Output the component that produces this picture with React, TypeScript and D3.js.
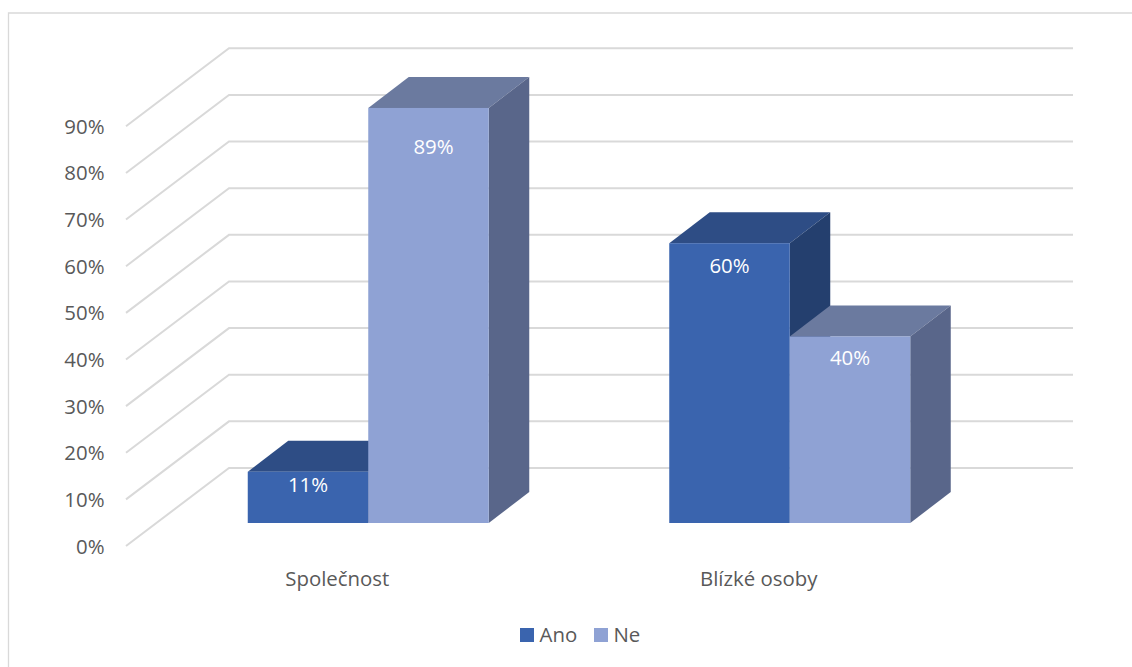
import React from "react";
import * as d3 from "d3";

const categories = ["Společnost", "Blízké osoby"];
const seriesNames = ["Ano", "Ne"];
const ano = [11, 60];
const ne = [89, 40];
const seriesValues = [ano, ne];
const tickValues = [0, 10, 20, 30, 40, 50, 60, 70, 80, 90];

const frontColors = ["#3a64ae", "#8fa2d4"];
const topColors = ["#2e4d85", "#6b7a9f"];
const sideColors = ["#243f6e", "#59668a"];

const FONT = "'Open Sans', 'Noto Sans', sans-serif";
const FONT_SIZE = 20.4;
const TEXT = "#595959";
const GRID = "#d9d9d9";

// Oblique projection of the 3D box: how far the back wall and a bar's depth shift on screen.
const wallDx = 103;
const wallDy = 78;
const barDx = 40.5;
const barDy = 31;

// Nudges for the value labels inside the bars, [series][category].
const labelDrop = [[13, 23], [39, 22]];
const labelShift = [[0, 0], [5, 0]];

export default function App() {
  const wallY = d3.scaleLinear().domain([0, 90]).range([546, 126.3]);
  const barY = d3.scaleLinear().domain([0, 90]).range([523, 103.3]);
  const band = d3.scaleBand<string>().domain(categories).range([157.5, 1000.5]).paddingInner(0).paddingOuter(0);
  const inner = d3.scaleBand<string>().domain(seriesNames).range([-120.5, 120.5]);
  const center = (c: string) => (band(c) as number) + band.bandwidth() / 2;
  const line = d3.line<[number, number]>();

  return (
    <svg width={1132} height={667} style={{ position: "absolute", left: 0, top: 0, background: "#fff" }}>
      <path d="M8.5 667V13H1132" fill="none" stroke={GRID} strokeWidth={1.3} />

      {tickValues.map((t) => {
        const y = wallY(t);
        return (
          <g key={t}>
            <path
              d={line([[126, y], [126 + wallDx, y - wallDy], [1073, y - wallDy]]) as string}
              fill="none"
              stroke={GRID}
              strokeWidth={2}
            />
            <text x={104.5} y={y + 7.5} textAnchor="end" fontFamily={FONT} fontSize={FONT_SIZE} fill={TEXT}>
              {t}%
            </text>
          </g>
        );
      })}

      {categories.map((c, ci) => (
        <g key={c}>
          {seriesNames.map((s, si) => {
            const v = seriesValues[si][ci];
            const x0 = center(c) + (inner(s) as number);
            const x1 = x0 + inner.bandwidth();
            const yTop = barY(v);
            const yBase = barY(0);
            return (
              <g key={s}>
                <path
                  d={line([[x0, yTop], [x0 + barDx, yTop - barDy], [x1 + barDx, yTop - barDy], [x1, yTop]]) + "Z"}
                  fill={topColors[si]}
                />
                <path
                  d={line([[x1, yTop], [x1 + barDx, yTop - barDy], [x1 + barDx, yBase - barDy], [x1, yBase]]) + "Z"}
                  fill={sideColors[si]}
                />
                <rect x={x0} y={yTop} width={x1 - x0} height={yBase - yTop} fill={frontColors[si]} />
              </g>
            );
          })}
          <text x={center(c) - 31} y={585.5} textAnchor="middle" fontFamily={FONT} fontSize={FONT_SIZE} fill={TEXT}>
            {c}
          </text>
        </g>
      ))}

      {categories.map((c, ci) =>
        seriesNames.map((s, si) => {
          const v = seriesValues[si][ci];
          const x = center(c) + (inner(s) as number) + inner.bandwidth() / 2 + labelShift[si][ci];
          return (
            <text
              key={c + s}
              x={x}
              y={barY(v) + labelDrop[si][ci] + 7}
              textAnchor="middle"
              fontFamily={FONT}
              fontSize={FONT_SIZE}
              fill="#fff"
            >
              {v}%
            </text>
          );
        })
      )}

      {seriesNames.map((s, si) => {
        const x = [520, 594][si];
        return (
          <g key={s}>
            <rect x={x} y={628} width={14} height={14} fill={frontColors[si]} />
            <text x={x + 19.5} y={642} fontFamily={FONT} fontSize={FONT_SIZE} fill={TEXT}>
              {s}
            </text>
          </g>
        );
      })}
    </svg>
  );
}
